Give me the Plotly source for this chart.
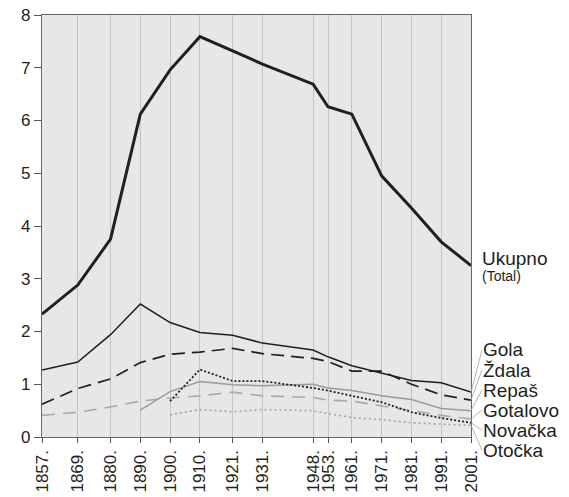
import plotly.graph_objects as go

years = [1857, 1869, 1880, 1890, 1900, 1910, 1921, 1931, 1948, 1953, 1961, 1971, 1981, 1991, 2001]
tick_text = [f"{y}." for y in years]

ukupno   = [2.33, 2.88, 3.75, 6.12, 6.96, 7.59, 7.32, 7.07, 6.69, 6.26, 6.12, 4.95, 4.34, 3.70, 3.25]
gola     = [1.27, 1.42, 1.94, 2.52, 2.17, 1.98, 1.93, 1.78, 1.65, 1.52, 1.35, 1.21, 1.07, 1.03, 0.85]
zdala    = [0.62, 0.92, 1.10, 1.41, 1.57, 1.61, 1.68, 1.58, 1.49, 1.43, 1.25, 1.25, 1.00, 0.80, 0.70]
repas    = [None, None, None, 0.51, 0.86, 1.05, 0.99, 0.97, 1.00, 0.93, 0.88, 0.78, 0.71, 0.54, 0.50]
gotalovo = [0.41, 0.47, 0.57, 0.68, 0.74, 0.78, 0.85, 0.78, 0.75, 0.70, 0.68, 0.59, 0.50, 0.41, 0.34]
novacka  = [None, None, None, None, 0.68, 1.28, 1.06, 1.06, 0.93, 0.88, 0.78, 0.66, 0.47, 0.36, 0.27]
otocka   = [None, None, None, None, 0.42, 0.52, 0.48, 0.52, 0.50, 0.44, 0.37, 0.33, 0.27, 0.25, 0.22]

names = ["Gola", "Ždala", "Repaš", "Gotalovo", "Novačka", "Otočka"]

BLACK = "#231f20"
FONT = "Liberation Sans, Arial, Helvetica, sans-serif"

W, H = 569, 497
M = dict(l=42, r=98, t=15, b=60)
Y_MAX = 8
px_per_unit = (H - M["t"] - M["b"]) / Y_MAX

styles = {
    "Ukupno":   dict(color=BLACK, width=3.0, dash="solid"),
    "Gola":     dict(color=BLACK, width=1.5, dash="solid"),
    "Ždala":    dict(color=BLACK, width=1.7, dash="13px,7px"),
    "Repaš":    dict(color="#9b9b9b", width=1.5, dash="solid"),
    "Gotalovo": dict(color="#a9a9a9", width=1.6, dash="13px,8px"),
    "Novačka":  dict(color=BLACK, width=1.8, dash="2px,2px"),
    "Otočka":   dict(color="#a3a3a3", width=1.6, dash="2px,3px"),
}

series = {
    "Ukupno": ukupno, "Gola": gola, "Ždala": zdala, "Repaš": repas,
    "Gotalovo": gotalovo, "Novačka": novacka, "Otočka": otocka,
}

fig = go.Figure()
draw_order = ["Otočka", "Gotalovo", "Repaš", "Novačka", "Ždala", "Gola", "Ukupno"]
for n in draw_order:
    fig.add_trace(go.Scatter(x=years, y=series[n], mode="lines", name=n,
                             line=styles[n], connectgaps=False, hoverinfo="skip"))

annotations = []
annotations.append(dict(x=years[-1], y=ukupno[-1], xref="x", yref="y", text="Ukupno",
                        showarrow=False, xanchor="left", yanchor="middle", xshift=9, yshift=7,
                        font=dict(size=19, color=BLACK, family=FONT)))
annotations.append(dict(x=years[-1], y=ukupno[-1], xref="x", yref="y", text="(Total)",
                        showarrow=False, xanchor="left", yanchor="middle", xshift=9, yshift=-10,
                        font=dict(size=14, color=BLACK, family=FONT)))

label_top_px = 350
label_step_px = 20
for i, n in enumerate(names):
    v = series[n][-1]
    end_px = M["t"] + (Y_MAX - v) * px_per_unit
    target_px = label_top_px + label_step_px * i
    annotations.append(dict(x=years[-1], y=v, xref="x", yref="y", text=n,
                            showarrow=True, arrowhead=0, arrowwidth=0.8, arrowcolor="#a0a0a0",
                            ax=11, ay=target_px - end_px, standoff=0,
                            xanchor="left", yanchor="middle", borderpad=0,
                            font=dict(size=19, color=BLACK, family=FONT)))

fig.update_layout(
    width=W, height=H, margin=dict(M, autoexpand=False),
    paper_bgcolor="white", plot_bgcolor="#e6e7e9",
    showlegend=False,
    font=dict(family=FONT, color=BLACK, size=17),
    annotations=annotations,
)
fig.update_xaxes(
    range=[years[0], years[-1]], tickmode="array", tickvals=years, ticktext=tick_text,
    tickangle=-90, ticks="outside", ticklen=5, tickcolor="#555", tickwidth=1,
    showgrid=True, gridcolor="#c3c3c3", gridwidth=1, automargin=False,
    showline=True, linecolor="#666", linewidth=1.2, mirror=True,
    tickfont=dict(size=17, color=BLACK, family=FONT), zeroline=False,
)
fig.update_yaxes(
    range=[0, Y_MAX], tickmode="linear", tick0=0, dtick=1,
    ticks="outside", ticklen=7, tickcolor="#555", tickwidth=1, automargin=False,
    showgrid=False, showline=True, linecolor="#666", linewidth=1.2, mirror=True,
    tickfont=dict(size=17, color=BLACK, family=FONT), zeroline=False,
)

fig.write_html("out.html", config={"displayModeBar": False, "staticPlot": True},
               post_script="document.body.style.margin='0';document.body.style.overflow='hidden';")
